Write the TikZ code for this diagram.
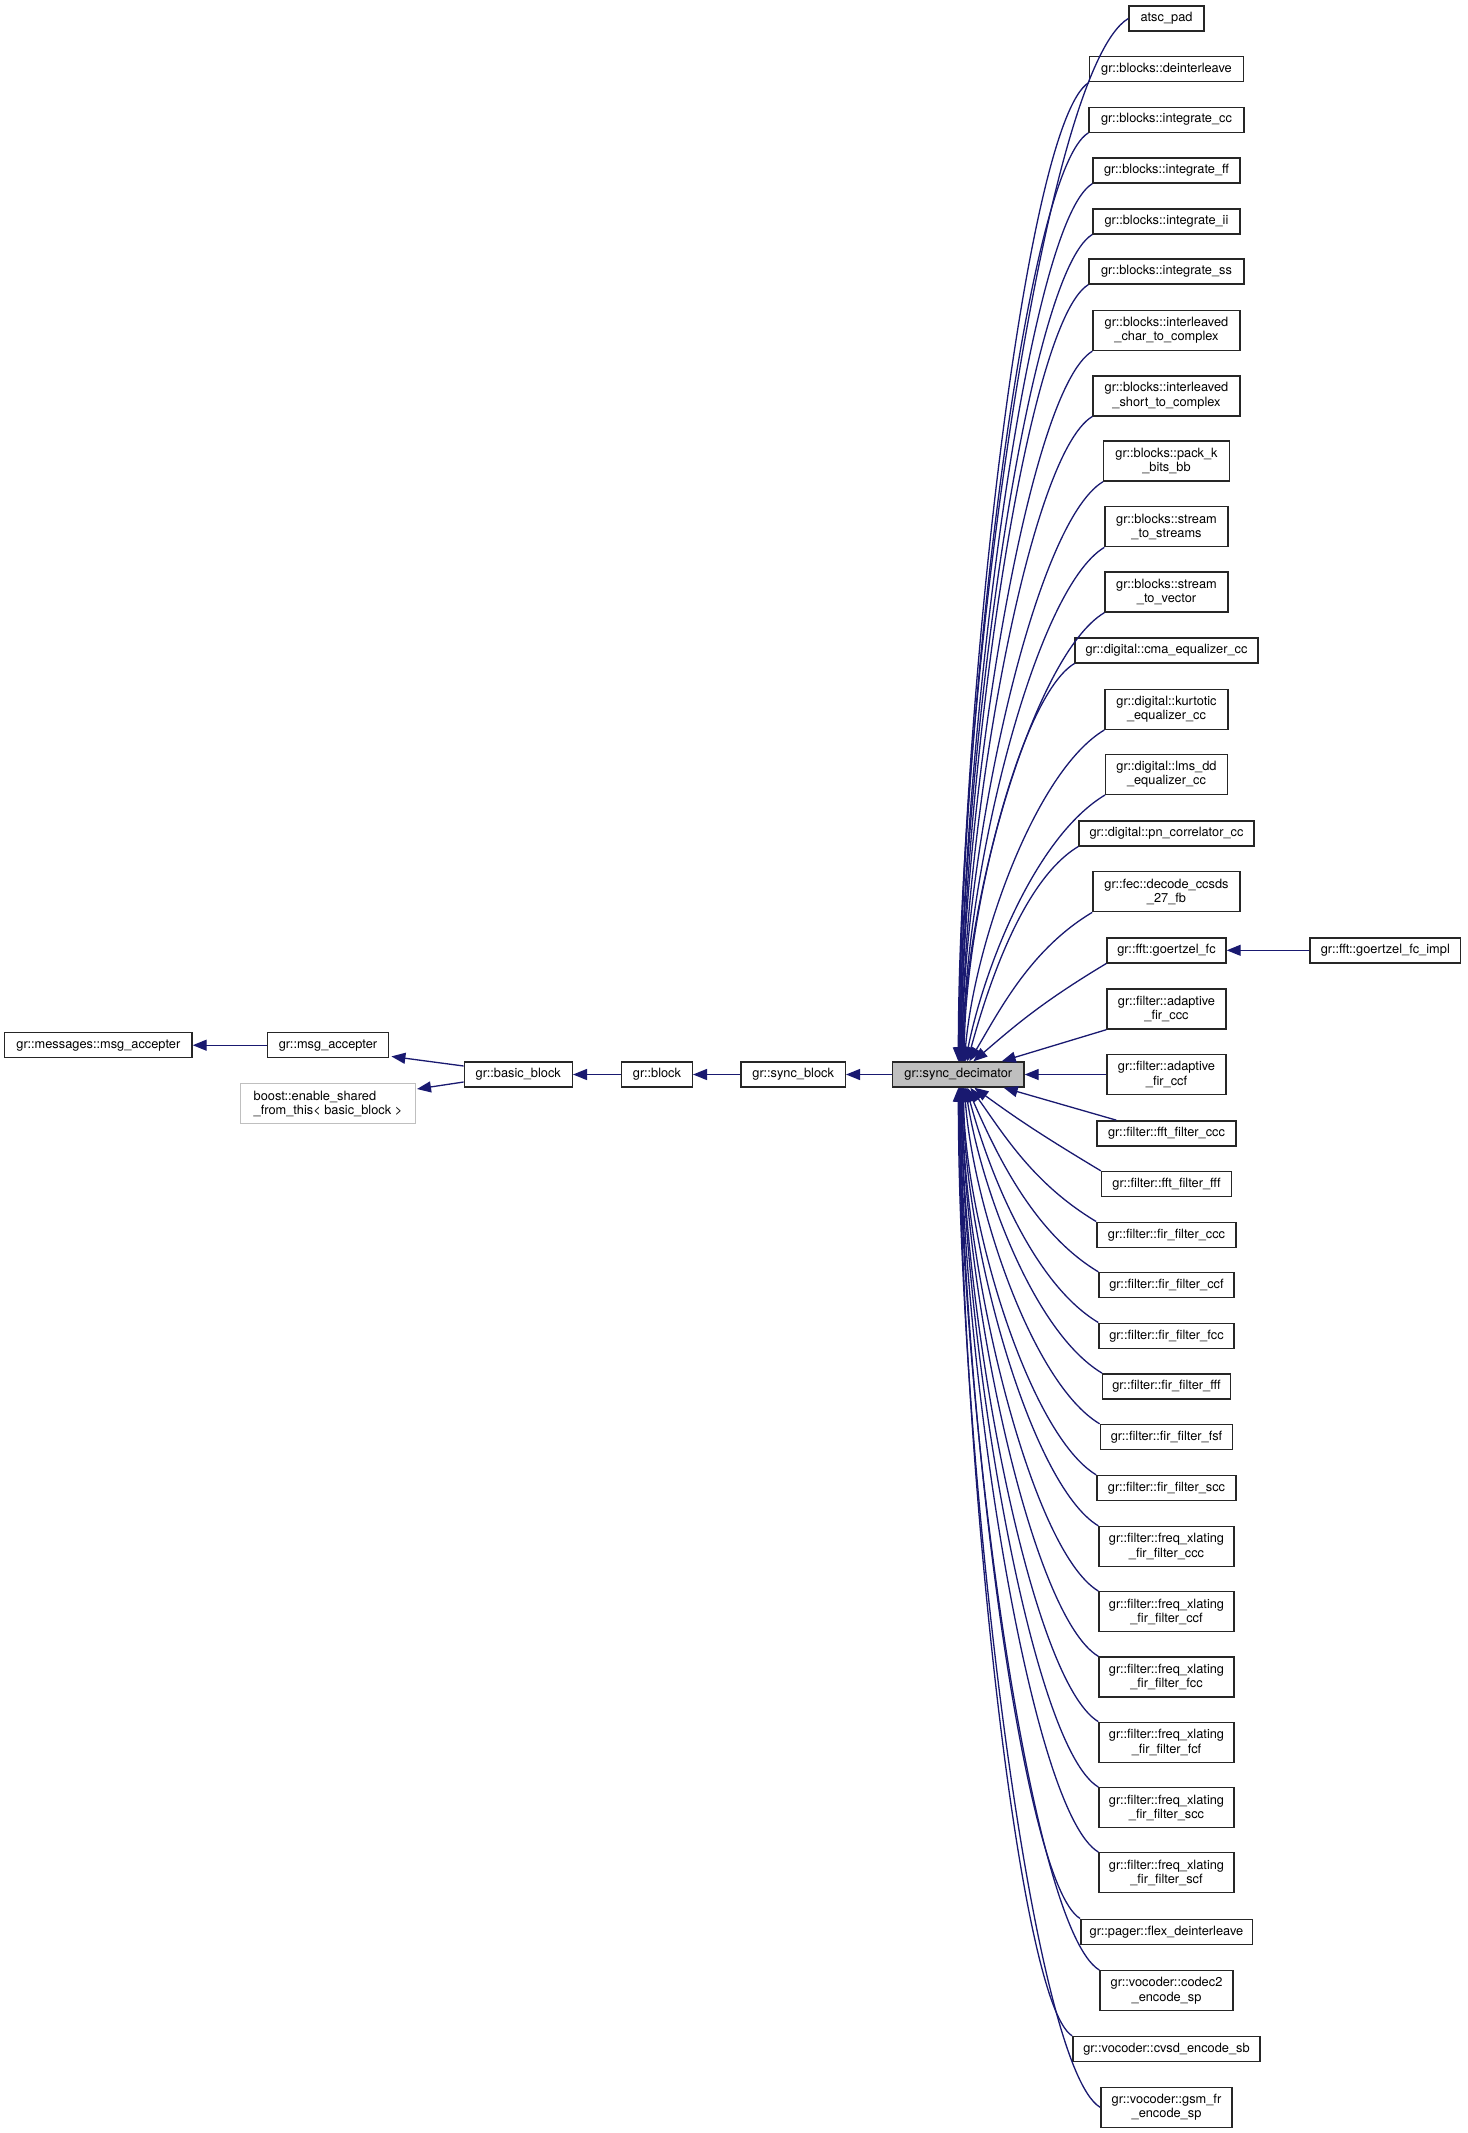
\documentclass[tikz,border=0pt]{standalone}
\usepackage{fontspec}
\setmainfont{TeX Gyre Heros}
\usetikzlibrary{arrows.meta,calc}
\definecolor{navy}{HTML}{191970}
\definecolor{boxgray}{HTML}{BFBFBF}
\newcommand\upedge[3]{\draw[conn] let \p1=(#1.#2), \p2=($(sd.north)+(#3,0)$) in (\p1) .. controls +({-0.5*((\x1)-(\x2))},{-0.3*((\x1)-(\x2))}) and +({0.4*max(0,1-abs((\y1)-(\y2))/400)*((\x1)-(\x2))},{0.35*((\y1)-(\y2))}) .. (\p2);}
\newcommand\downedge[3]{\draw[conn] let \p1=(#1.#2), \p2=($(sd.south)+(#3,0)$) in (\p1) .. controls +({-0.5*((\x1)-(\x2))},{0.3*((\x1)-(\x2))}) and +({0.4*max(0,1-abs((\y1)-(\y2))/400)*((\x1)-(\x2))},{0.35*((\y1)-(\y2))}) .. (\p2);}
\begin{document}
\begin{tikzpicture}[x=1pt,y=-1pt,
  cls/.style={draw=black!85, line width=1.4pt, fill=white, inner sep=0pt, align=center,
    font=\fontsize{12.8}{14.3}\selectfont, minimum height=25pt},
  tall/.style={minimum height=40pt},
  conn/.style={draw=navy, line width=1.3pt, -{Triangle[length=14pt,width=11pt]}}]
\fill[white] (0,0) rectangle (1467,2133);
\useasboundingbox (0,0) rectangle (1467,2133);

% left chain
\node[cls, minimum width=187.3pt] (mma) at (98.35,1045.2) {gr::messages::msg\_accepter};
\node[cls, minimum width=121.4pt] (ma) at (328,1045.2) {gr::msg\_accepter};
\node[cls, tall, draw=boxgray, align=left, minimum width=174.6pt] (boost) at (328,1103.7) {boost::enable\_shared\\\_from\_this\textless{} basic\_block \textgreater};
\node[cls, minimum width=108pt] (bb) at (518.3,1074.5) {gr::basic\_block};
\node[cls, minimum width=70.6pt] (blk) at (657,1074.5) {gr::block};
\node[cls, minimum width=104.3pt] (sb) at (793.2,1074.5) {gr::sync\_block};
\node[cls, fill=boxgray, minimum width=131.3pt] (sd) at (958.35,1074.5) {gr::sync\_decimator};
\node[cls, minimum width=150.7pt] (gimpl) at (1385.35,950.3) {gr::fft::goertzel\_fc\_impl};

% right column (upper)
\node[cls, minimum width=75pt] (atsc) at (1166.5,18.5) {atsc\_pad};
\node[cls, minimum width=153.6pt] (deint) at (1166.5,69.2) {gr::blocks::deinterleave};
\node[cls, minimum width=155pt] (intcc) at (1166.5,119.7) {gr::blocks::integrate\_cc};
\node[cls, minimum width=147pt] (intff) at (1166.5,170.5) {gr::blocks::integrate\_ff};
\node[cls, minimum width=147pt] (intii) at (1166.5,221.3) {gr::blocks::integrate\_ii};
\node[cls, minimum width=155pt] (intss) at (1166.5,271.5) {gr::blocks::integrate\_ss};
\node[cls, tall, minimum width=147pt] (ilchar) at (1166.5,330.5) {gr::blocks::interleaved\\\_char\_to\_complex};
\node[cls, tall, minimum width=147pt] (ilshort) at (1166.5,395.8) {gr::blocks::interleaved\\\_short\_to\_complex};
\node[cls, tall, minimum width=125.6pt] (packk) at (1166.5,461) {gr::blocks::pack\_k\\\_bits\_bb};
\node[cls, tall, minimum width=123pt] (s2ss) at (1166.5,526.7) {gr::blocks::stream\\\_to\_streams};
\node[cls, tall, minimum width=123pt] (s2v) at (1166.5,592) {gr::blocks::stream\\\_to\_vector};
\node[cls, minimum width=182.7pt] (cma) at (1166.5,650.3) {gr::digital::cma\_equalizer\_cc};
\node[cls, tall, minimum width=123pt] (kurt) at (1166.5,709.3) {gr::digital::kurtotic\\\_equalizer\_cc};
\node[cls, tall, minimum width=121.6pt] (lms) at (1166.5,774.3) {gr::digital::lms\_dd\\\_equalizer\_cc};
\node[cls, minimum width=175pt] (pn) at (1166.5,833.3) {gr::digital::pn\_correlator\_cc};
\node[cls, tall, minimum width=147.3pt] (ccsds) at (1166.5,891.7) {gr::fec::decode\_ccsds\\\_27\_fb};
\node[cls, minimum width=119pt] (goertzel) at (1166.5,950.3) {gr::fft::goertzel\_fc};
\node[cls, tall, minimum width=119pt] (adccc) at (1166.5,1009) {gr::filter::adaptive\\\_fir\_ccc};
\node[cls, tall, minimum width=119pt] (adccf) at (1166.5,1074.5) {gr::filter::adaptive\\\_fir\_ccf};

% right column (lower)
\node[cls, minimum width=139.3pt] (fftccc) at (1166.5,1133.3) {gr::filter::fft\_filter\_ccc};
\node[cls, minimum width=130pt] (fftfff) at (1166.5,1184) {gr::filter::fft\_filter\_fff};
\node[cls, minimum width=139.3pt] (firccc) at (1166.5,1234.7) {gr::filter::fir\_filter\_ccc};
\node[cls, minimum width=135pt] (firccf) at (1166.5,1285) {gr::filter::fir\_filter\_ccf};
\node[cls, minimum width=135pt] (firfcc) at (1166.5,1335.7) {gr::filter::fir\_filter\_fcc};
\node[cls, minimum width=127.6pt] (firfff) at (1166.5,1386.3) {gr::filter::fir\_filter\_fff};
\node[cls, minimum width=132.4pt] (firfsf) at (1166.5,1437) {gr::filter::fir\_filter\_fsf};
\node[cls, minimum width=139.3pt] (firscc) at (1166.5,1488) {gr::filter::fir\_filter\_scc};
\node[cls, tall, minimum width=135pt] (fxccc) at (1166.5,1546.5) {gr::filter::freq\_xlating\\\_fir\_filter\_ccc};
\node[cls, tall, minimum width=135pt] (fxccf) at (1166.5,1611.7) {gr::filter::freq\_xlating\\\_fir\_filter\_ccf};
\node[cls, tall, minimum width=135pt] (fxfcc) at (1166.5,1677) {gr::filter::freq\_xlating\\\_fir\_filter\_fcc};
\node[cls, tall, minimum width=135pt] (fxfcf) at (1166.5,1742.3) {gr::filter::freq\_xlating\\\_fir\_filter\_fcf};
\node[cls, tall, minimum width=135pt] (fxscc) at (1166.5,1807.7) {gr::filter::freq\_xlating\\\_fir\_filter\_scc};
\node[cls, tall, minimum width=135pt] (fxscf) at (1166.5,1872.7) {gr::filter::freq\_xlating\\\_fir\_filter\_scf};
\node[cls, minimum width=171.4pt] (flex) at (1166.5,1931.7) {gr::pager::flex\_deinterleave};
\node[cls, tall, minimum width=133pt] (codec2) at (1166.5,1990.7) {gr::vocoder::codec2\\\_encode\_sp};
\node[cls, minimum width=187.3pt] (cvsd) at (1166.5,2049) {gr::vocoder::cvsd\_encode\_sb};
\node[cls, tall, minimum width=131.3pt] (gsm) at (1166.5,2107.3) {gr::vocoder::gsm\_fr\\\_encode\_sp};

% straight connectors
\draw[conn] (sd.west) -- (sb.east);
\draw[conn] (sb.west) -- (blk.east);
\draw[conn] (blk.west) -- (bb.east);
\draw[conn] ($(bb.west)+(0,-8.5)$) -- ($(ma.south east)+(2,-2)$);
\draw[conn] ($(bb.west)+(0,7.5)$) -- ($(boost.north east)+(1,6)$);
\draw[conn] (ma.west) -- (mma.east);
\draw[conn] (gimpl.west) -- (goertzel.east);
\draw[conn] (adccf.west) -- (sd.east);
\draw[conn] (adccc.south west) -- ($(sd.north east)+(-23,0)$);
\draw[conn] ($(fftccc.north west)+(20,0)$) -- ($(sd.south east)+(-21,0)$);

% curved connectors (upper)
\upedge{atsc}{west}{0}
\upedge{deint}{south west}{1}
\upedge{intcc}{south west}{1}
\upedge{intff}{south west}{2}
\upedge{intii}{south west}{2}
\upedge{intss}{south west}{3}
\upedge{ilchar}{south west}{3}
\upedge{ilshort}{south west}{4}
\upedge{packk}{south west}{4}
\upedge{s2ss}{south west}{5}
\upedge{s2v}{south west}{5}
\upedge{cma}{south west}{6}
\upedge{kurt}{south west}{6}
\upedge{lms}{south west}{7}
\upedge{pn}{south west}{9}
\upedge{ccsds}{south west}{11}
\upedge{goertzel}{south west}{15}

% curved connectors (lower)
\downedge{fftfff}{north west}{16}
\downedge{firccc}{north west}{12}
\downedge{firccf}{north west}{9}
\downedge{firfcc}{north west}{8}
\downedge{firfff}{north west}{7}
\downedge{firfsf}{north west}{6}
\downedge{firscc}{north west}{5}
\downedge{fxccc}{north west}{5}
\downedge{fxccf}{north west}{4}
\downedge{fxfcc}{north west}{4}
\downedge{fxfcf}{north west}{3}
\downedge{fxscc}{north west}{3}
\downedge{fxscf}{north west}{2}
\downedge{flex}{north west}{2}
\downedge{codec2}{north west}{1}
\downedge{cvsd}{north west}{1}
\downedge{gsm}{west}{0}
\end{tikzpicture}
\end{document}
